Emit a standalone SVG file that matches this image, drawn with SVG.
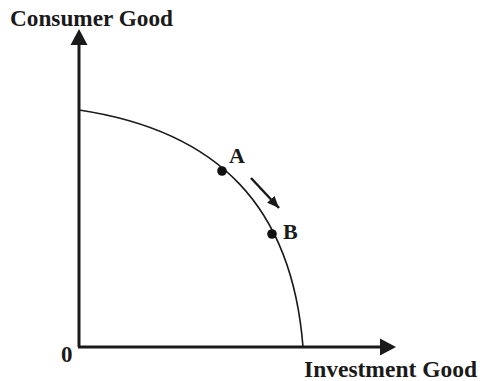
<svg xmlns="http://www.w3.org/2000/svg" width="480" height="381" viewBox="0 0 480 381">
<style>
.lbl{font-family:"Liberation Serif","Times New Roman",serif;font-weight:bold;fill:#1a1a1a}
.axis{stroke:#1a1a1a;stroke-width:3;fill:none}
.curve{stroke:#1a1a1a;stroke-width:1.6;fill:none}
.dot{fill:#111}
</style>
<defs>
<marker id="ah" markerUnits="userSpaceOnUse" markerWidth="12" markerHeight="10" refX="12" refY="5" orient="auto">
<path d="M0,0 L12,5 L0,10 Z" fill="#1a1a1a"/>
</marker>
</defs>
<rect width="480" height="381" fill="#fff"/>
<g id="axes">
<line class="axis" x1="79" y1="347" x2="79" y2="44"/>
<path d="M70.5,45 L79,29 L87.5,45 Z" fill="#1a1a1a"/>
<line class="axis" x1="78" y1="347" x2="381" y2="347"/>
<path d="M380,338.5 L396,347 L380,355.5 Z" fill="#1a1a1a"/>
</g>
<g id="ppf">
<path class="curve" d="M79,110 C219,131 292,207 303,347"/>
</g>
<g id="pointA">
<circle class="dot" cx="222" cy="171" r="4.8"/>
<text class="lbl" x="229" y="163" font-size="22">A</text>
</g>
<g id="pointB">
<circle class="dot" cx="272" cy="234" r="4.8"/>
<text class="lbl" x="283" y="239" font-size="22">B</text>
</g>
<g id="connectors">
<line x1="251" y1="178" x2="279" y2="208" stroke="#1a1a1a" stroke-width="2.5" marker-end="url(#ah)"/>
</g>
<g id="labels">
<text class="lbl" x="10" y="26" font-size="23" textLength="163" lengthAdjust="spacingAndGlyphs">Consumer Good</text>
<text class="lbl" x="304" y="377" font-size="24" textLength="173" lengthAdjust="spacingAndGlyphs">Investment Good</text>
<text class="lbl" x="61" y="362" font-size="23">0</text>
</g>
</svg>
